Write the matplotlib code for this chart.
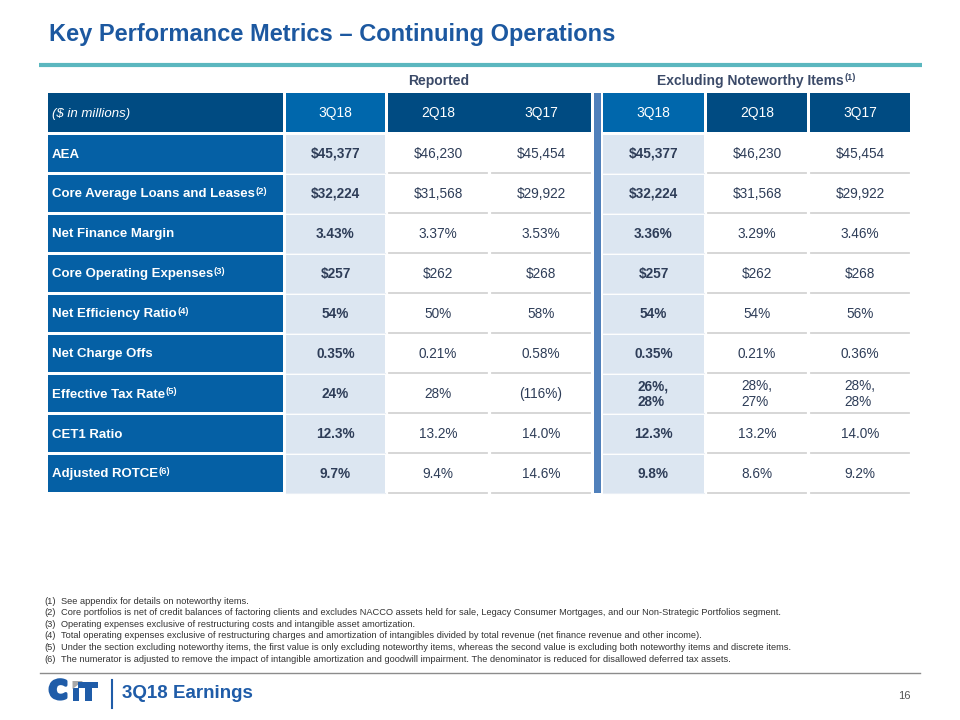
import matplotlib
matplotlib.use("Agg")
import matplotlib.pyplot as plt
import matplotlib.patheffects as pe
from matplotlib.patches import Rectangle, Polygon

# 数据
metrics = ["AEA", "Core Average Loans and Leases", "Net Finance Margin",
           "Core Operating Expenses", "Net Efficiency Ratio", "Net Charge Offs",
           "Effective Tax Rate", "CET1 Ratio", "Adjusted ROTCE"]
metric_notes = ["", "(2)", "", "(3)", "(4)", "", "(5)", "", "(6)"]
quarters = ["3Q18", "2Q18", "3Q17"]

rep_3q18 = ["$45,377", "$32,224", "3.43%", "$257", "54%", "0.35%", "24%", "12.3%", "9.7%"]
rep_2q18 = ["$46,230", "$31,568", "3.37%", "$262", "50%", "0.21%", "28%", "13.2%", "9.4%"]
rep_3q17 = ["$45,454", "$29,922", "3.53%", "$268", "58%", "0.58%", "(116%)", "14.0%", "14.6%"]
ex_3q18 = ["$45,377", "$32,224", "3.36%", "$257", "54%", "0.35%", "26%,\n28%", "12.3%", "9.8%"]
ex_2q18 = ["$46,230", "$31,568", "3.29%", "$262", "54%", "0.21%", "28%,\n27%", "13.2%", "8.6%"]
ex_3q17 = ["$45,454", "$29,922", "3.46%", "$268", "56%", "0.36%", "28%,\n28%", "14.0%", "9.2%"]

footnotes = [
    "See appendix for details on noteworthy items.",
    "Core portfolios is net of credit balances of factoring clients and excludes NACCO assets held for sale, Legacy Consumer Mortgages, and our Non-Strategic Portfolios segment.",
    "Operating expenses exclusive of restructuring costs and intangible asset amortization.",
    "Total operating expenses exclusive of restructuring charges and amortization of intangibles divided by total revenue (net finance revenue and other income).",
    "Under the section excluding noteworthy items, the first value is only excluding noteworthy items, whereas the second value is excluding both noteworthy items and discrete items.",
    "The numerator is adjusted to remove the impact of intangible amortization and goodwill impairment. The denominator is reduced for disallowed deferred tax assets.",
]

# 颜色
TITLE_C = "#1C58A0"
TEAL = "#5BB7BF"
DARK = "#004B82"
MID = "#0067AC"
LABEL_C = "#0560A5"
LIGHT = "#DCE6F1"
SEP = "#5080BB"
TXT = "#2E3D58"
LOGO = "#1F5CA8"
NARROW = ["Liberation Sans Narrow", "Liberation Sans", "DejaVu Sans"]
WIDE = ["Liberation Sans", "DejaVu Sans"]

fig = plt.figure(figsize=(9.6, 7.2), dpi=100)
ax = fig.add_axes([0, 0, 1, 1])
ax.set_xlim(0, 960)
ax.set_ylim(720, 0)
ax.axis("off")
renderer = fig.canvas.get_renderer()


def sup_after(t, sup, size, color, weight="normal", family=WIDE):
    bb = t.get_window_extent(renderer)
    x, y = ax.transData.inverted().transform((bb.x1, bb.y1))
    ax.text(x + 0.5, y - 1, sup, fontsize=size, color=color, fontweight=weight,
            family=family, ha="left", va="top")


# 标题
ax.text(49, 34, "Key Performance Metrics \u2013 Continuing Operations", fontsize=17,
        fontweight="bold", color=TITLE_C, family=WIDE, va="center", ha="left")
ax.plot([39, 922], [64.5, 64.5], color=TEAL, lw=3, solid_capstyle="butt")

# 表格布局
lab_x0, lab_x1 = 48, 283
col_x = [(286, 385), (388, 488), (491, 591), (603, 704), (707, 807), (810, 910)]
head_y0, head_y1 = 93, 132
row_y0, row_h = 133, 40
nrows = len(metrics)
cols = [rep_3q18, rep_2q18, rep_3q17, ex_3q18, ex_2q18, ex_3q17]

# 组标题
t = ax.text((col_x[0][0] + col_x[2][1]) / 2, 81, "Reported", fontsize=10, fontweight="bold",
            color="#3B4A68", family=NARROW, ha="center", va="center")
t = ax.text((col_x[3][0] + col_x[5][1]) / 2 - 6, 81, "Excluding Noteworthy Items", fontsize=10,
            fontweight="bold", color="#3B4A68", family=NARROW, ha="center", va="center")
sup_after(t, "(1)", 6.5, "#3B4A68", "bold", NARROW)

# 表头
ax.add_patch(Rectangle((lab_x0, head_y0), lab_x1 - lab_x0, head_y1 - head_y0, color=DARK, lw=0))
ax.text(lab_x0 + 4, (head_y0 + head_y1) / 2 + 1.5, "($ in millions)", fontsize=9.5, style="italic",
        color="white", family=NARROW, va="center")
ax.add_patch(Rectangle((col_x[0][0], head_y0), col_x[0][1] - col_x[0][0], head_y1 - head_y0, color=MID, lw=0))
ax.add_patch(Rectangle((col_x[1][0], head_y0), col_x[2][1] - col_x[1][0], head_y1 - head_y0, color=DARK, lw=0))
ax.add_patch(Rectangle((col_x[3][0], head_y0), col_x[3][1] - col_x[3][0], head_y1 - head_y0, color=MID, lw=0))
for j in (4, 5):
    ax.add_patch(Rectangle((col_x[j][0], head_y0), col_x[j][1] - col_x[j][0], head_y1 - head_y0, color=DARK, lw=0))
for j, (x0, x1) in enumerate(col_x):
    ax.text((x0 + x1) / 2, (head_y0 + head_y1) / 2 + 1, quarters[j % 3], fontsize=10,
            color="white", family=NARROW, ha="center", va="center")

# 分隔条
ax.add_patch(Rectangle((593.5, head_y0), 7.5, row_y0 + nrows * row_h - head_y0, color=SEP, lw=0))

# 数据行
for i in range(nrows):
    top = row_y0 + i * row_h
    bot = top + row_h
    ax.add_patch(Rectangle((lab_x0, top + 2), lab_x1 - lab_x0, row_h - 3, color=LABEL_C, lw=0))
    t = ax.text(lab_x0 + 4, top + row_h / 2 + 1.5, metrics[i], fontsize=9.5, fontweight="bold",
                color="white", family=WIDE, va="center", ha="left")
    if metric_notes[i]:
        sup_after(t, metric_notes[i], 6.8, "white", "bold")
    for j, (x0, x1) in enumerate(col_x):
        bold = j in (0, 3)
        if bold:
            ax.add_patch(Rectangle((x0, top + 2), x1 - x0, row_h - 1, color=LIGHT, lw=0))
            ax.plot([x0, x1], [bot, bot], color="#E9EEF5", lw=0.8)
        else:
            ax.plot([x0 + 1, x1 - 1], [bot, bot], color="#D3D3D3", lw=1.3)
        ax.text((x0 + x1) / 2, top + row_h / 2 + 1, cols[j][i], fontsize=9.8,
                fontweight="bold" if bold else "normal", color=TXT, family=NARROW,
                ha="center", va="center", multialignment="left", linespacing=1.1)

# 脚注
for k, note in enumerate(footnotes):
    y = 601 + k * 11.6
    ax.text(44, y, "(%d)" % (k + 1), fontsize=6.7, color="#333333", family=NARROW, va="center")
    ax.text(61, y, note, fontsize=6.7, color="#333333", family=NARROW, va="center")

# 页脚
ax.plot([40, 920], [672.7, 672.7], color="#8C8C8C", lw=1)
ax.text(49, 691.5, "C", fontsize=18, fontweight="bold", color=LOGO, family=["DejaVu Sans"],
        va="center", ha="left",
        path_effects=[pe.withStroke(linewidth=2.5, foreground=LOGO)])
ax.add_patch(Rectangle((72.5, 688), 6, 12.5, color=LOGO, lw=0))
ax.add_patch(Polygon([[72.5, 681], [83, 681], [72.5, 689]], closed=True, color="#A8A8A8", lw=0))
ax.add_patch(Rectangle((78, 682), 19.5, 6, color=LOGO, lw=0))
ax.add_patch(Rectangle((84.5, 682), 7, 18.5, color=LOGO, lw=0))
ax.plot([112, 112], [680, 708], color=LOGO, lw=1.5)
ax.text(122, 693, "3Q18 Earnings", fontsize=13.5, fontweight="bold", color=LOGO,
        family=WIDE, va="center", ha="left")
ax.text(898, 696, "16", fontsize=8, color="#555555", family=WIDE, va="center", ha="left")

fig.savefig("out.png", dpi=100)
